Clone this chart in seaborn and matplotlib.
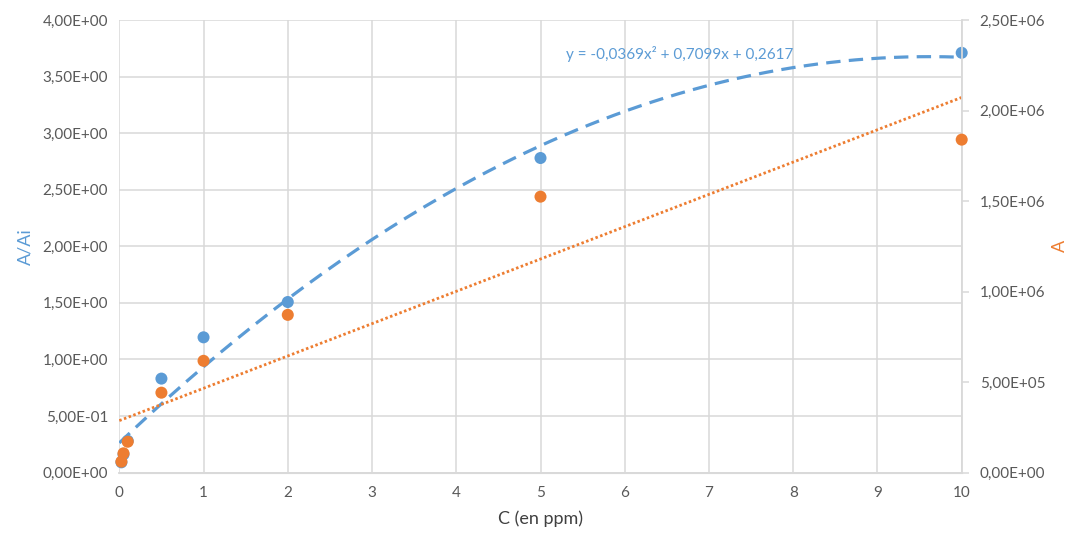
import matplotlib
matplotlib.use("Agg")
import matplotlib.pyplot as plt
import numpy as np
import pandas as pd
import seaborn as sns
from matplotlib.ticker import FuncFormatter, MultipleLocator

# concentrations (ppm)
conc = [0.025, 0.05, 0.1, 0.5, 1, 2, 5, 10]
# A/Ai ratio (left axis)
ratio = [0.09, 0.16, 0.28, 0.83, 1.195, 1.507, 2.78, 3.71]
# raw area A (right axis)
area = [0.060e6, 0.106e6, 0.170e6, 0.441e6, 0.617e6, 0.871e6, 1.524e6, 1.839e6]
# polynomial trendline coefficients shown on the chart
poly_coefs = [-0.0369, 0.7099, 0.2617]

blue = '#5B9BD5'
orange = '#ED7D31'
grey_txt = '#595959'
grid_col = '#D9D9D9'

sns.set_style("white")
plt.rcParams['font.family'] = ['Lato', 'DejaVu Sans']


def sci_fr(v, pos):
    s = "%.2E" % v
    return s.replace('.', ',')


df = pd.DataFrame({'C': conc, 'ratio': ratio, 'A': area})

fig = plt.figure(figsize=(10.77, 5.4), dpi=100)
ax = fig.add_axes([119.3 / 1077, (540 - 472.5) / 540, (961.7 - 119.3) / 1077, (472.5 - 20) / 540])
ax2 = ax.twinx()

# trendlines
xs = np.linspace(0, 10, 200)
trend_blue = pd.DataFrame({'C': xs, 'y': np.polyval(poly_coefs, xs)})
sns.lineplot(data=trend_blue, x='C', y='y', ax=ax, color=blue, lw=2.3, zorder=2)
ax.lines[-1].set_dashes([4.5, 2.6])

lin = np.polyfit(conc, area, 1)
trend_orange = pd.DataFrame({'C': xs, 'y': np.polyval(lin, xs)})
sns.lineplot(data=trend_orange, x='C', y='y', ax=ax2, color=orange, lw=2.0, zorder=2)
ax2.lines[-1].set_dashes([0.9, 0.9])

# points
sns.scatterplot(data=df, x='C', y='ratio', ax=ax, color=blue, s=75, edgecolor='none', zorder=3, clip_on=False)
sns.scatterplot(data=df, x='C', y='A', ax=ax2, color=orange, s=75, edgecolor='none', zorder=3, clip_on=False)

ax.set_xlim(0, 10)
ax.set_ylim(0, 4)
ax2.set_ylim(0, 2.5e6)
ax.xaxis.set_major_locator(MultipleLocator(1))
ax.yaxis.set_major_locator(MultipleLocator(0.5))
ax2.yaxis.set_major_locator(MultipleLocator(0.5e6))
ax.yaxis.set_major_formatter(FuncFormatter(sci_fr))
ax2.yaxis.set_major_formatter(FuncFormatter(sci_fr))

ax.grid(True, color=grid_col, lw=1.1)
ax.set_axisbelow(True)
ax2.grid(False)
for sp in ['top', 'left']:
    ax.spines[sp].set_visible(False)
    ax2.spines[sp].set_visible(False)
ax.spines['right'].set_visible(False)
ax2.spines['right'].set_color(grid_col)
ax2.spines['bottom'].set_color(grid_col)
ax.spines['bottom'].set_color(grid_col)
ax2.spines['right'].set_linewidth(1.3)
ax.spines['bottom'].set_linewidth(1.3)

ax.tick_params(axis='x', length=0, pad=10, labelsize=11, labelcolor=grey_txt)
ax.tick_params(axis='y', length=0, pad=8, labelsize=11, labelcolor=grey_txt)
ax2.tick_params(axis='y', length=5, width=1.1, color=grid_col, pad=8, labelsize=11, labelcolor=grey_txt)

ax.set_xlabel('C (en ppm)', fontsize=13, color='#404040', labelpad=7)
ax.set_ylabel('A/Ai', fontsize=13, color=blue, labelpad=7)
ax2.set_ylabel('A', fontsize=13, color=orange, labelpad=5)

ax.text(5.3, 3.7, 'y = -0,0369x² + 0,7099x + 0,2617', color=blue, fontsize=11, va='center')

fig.savefig('out.png', dpi=100)
